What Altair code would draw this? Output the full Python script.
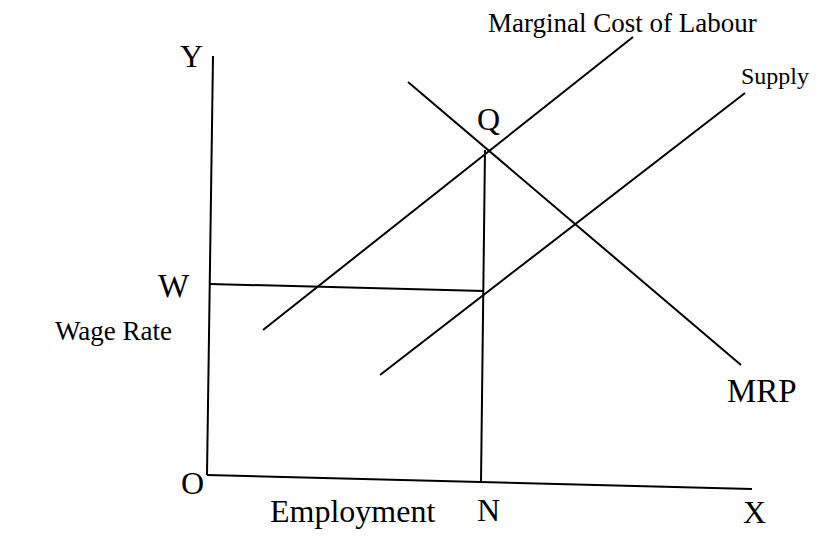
import altair as alt
import pandas as pd

# Diagram coordinates (x to the right, y downward, same frame as the figure)
seg_names = ["Y axis", "X axis", "Marginal Cost of Labour", "Supply", "MRP", "N line", "W line"]
seg_x1 = [213, 207, 263, 380, 408, 485, 210]
seg_y1 = [56, 475, 330, 375, 82, 150, 284]
seg_x2 = [207, 752, 633, 745, 741, 481, 484]
seg_y2 = [475, 489, 37, 93, 365, 482, 291]

labels = ["Marginal Cost of Labour", "Supply", "Q", "Y", "W", "Wage Rate", "O",
          "Employment", "N", "X", "MRP"]
label_x = [488, 741, 477, 180, 158, 172, 181, 270, 477, 743, 727]
label_y = [32, 84, 130, 67, 297, 340, 494, 522, 521, 523, 402]
label_size = [27, 24, 32, 32, 33, 27, 32, 32, 32, 32, 33]
label_align = ["left", "left", "left", "left", "left", "right", "left",
               "left", "left", "left", "left"]

segs = pd.DataFrame({"name": seg_names, "x": seg_x1, "y": seg_y1, "x2": seg_x2, "y2": seg_y2})
txt = pd.DataFrame({"label": labels, "x": label_x, "y": label_y, "size": label_size,
                    "align": label_align})

xs = alt.Scale(domain=[8, 811], nice=False, zero=False)
ys = alt.Scale(domain=[8, 530], nice=False, zero=False, reverse=True)

lines = alt.Chart(segs).mark_rule(color="black", strokeWidth=2).encode(
    x=alt.X("x:Q", scale=xs, axis=None),
    y=alt.Y("y:Q", scale=ys, axis=None),
    x2="x2:Q",
    y2="y2:Q",
)

def text_layer(align):
    return alt.Chart(txt[txt["align"] == align]).mark_text(
        align=align, baseline="alphabetic", font="Liberation Serif", color="black"
    ).encode(
        x=alt.X("x:Q", scale=xs, axis=None),
        y=alt.Y("y:Q", scale=ys, axis=None),
        text="label:N",
        size=alt.Size("size:Q", scale=None, legend=None),
    )

chart = (lines + text_layer("left") + text_layer("right")).properties(
    width=803, height=522, autosize=alt.AutoSizeParams(type="none"), padding=0,
    background="white"
).configure_view(stroke=None)

chart.save("out.html", embed_options={"renderer": "svg", "actions": False})
